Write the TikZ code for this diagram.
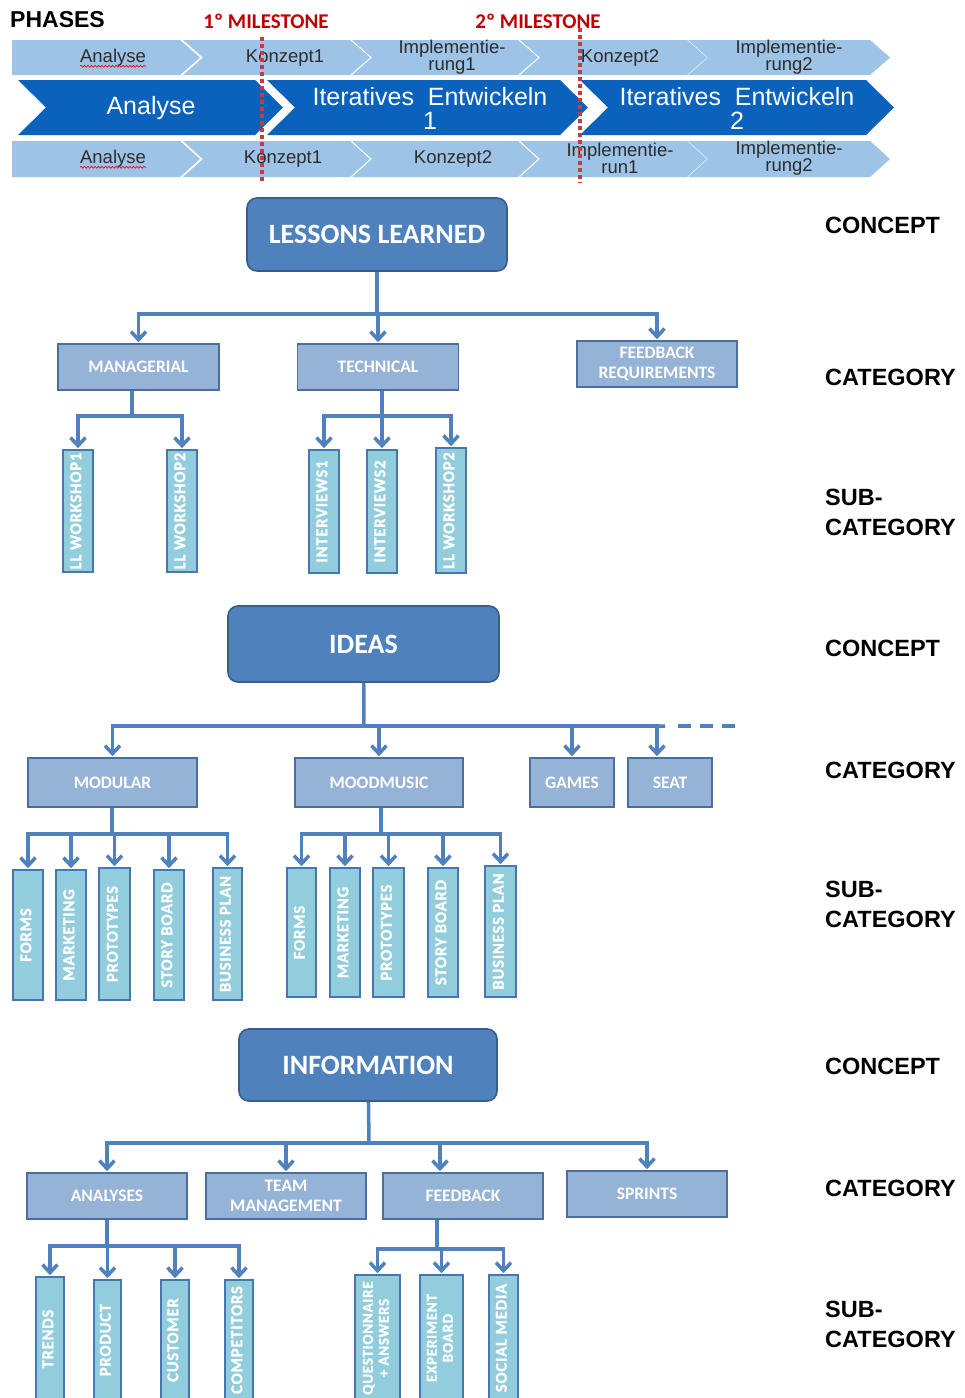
\documentclass[tikz,border=0pt]{standalone}
\usepackage{fontspec}
\setmainfont{Liberation Sans}
\newfontfamily\carlito{Carlito}
\usetikzlibrary{arrows.meta,decorations.pathmorphing}

\definecolor{phaselight}{RGB}{157,195,230}
\definecolor{phasedark}{RGB}{10,98,188}
\definecolor{phasetext}{RGB}{45,45,45}
\definecolor{milered}{RGB}{192,0,0}
\definecolor{miledot}{RGB}{196,60,60}
\definecolor{conceptfill}{RGB}{79,129,189}
\definecolor{conceptline}{RGB}{56,93,138}
\definecolor{catfill}{RGB}{149,179,215}
\definecolor{catline}{RGB}{75,110,160}
\definecolor{subfill}{RGB}{146,205,221}
\definecolor{subline}{RGB}{70,120,175}
\definecolor{linkblue}{RGB}{79,129,189}

% vertical label inside the narrow boxes
\newcommand{\vt}[1]{\rotatebox{90}{\begin{tabular}{@{}c@{}}#1\end{tabular}}}

\tikzset{
  concept/.style={draw=conceptline, fill=conceptfill, line width=1.6pt, rounded corners=10pt,
    text=white, font=\carlito\bfseries\fontsize{28}{30}\selectfont},
  catbox/.style={draw=catline, fill=catfill, line width=1.6pt, text=white, align=center,
    inner sep=0pt, minimum height=46pt, font=\carlito\bfseries\fontsize{17.5}{20.5}\selectfont},
  subbox/.style={draw=subline, fill=subfill, line width=1.6pt, text=white, inner sep=0pt,
    font=\carlito\bfseries\fontsize{16.5}{16}\selectfont\addfontfeatures{LetterSpace=5,FakeBold=1.2}},
  link/.style={draw=linkblue, line width=3.5pt},
  arr/.style={link, -{Straight Barb[length=8pt,width=15pt]}, shorten >=1pt},
  level/.style={anchor=west, align=left, inner sep=0pt, font=\bfseries\fontsize{23.5}{30}\selectfont},
  ptext/.style={inner sep=0pt, align=center, text=phasetext, font=\fontsize{18.5}{17}\selectfont},
  dtext/.style={inner sep=0pt, align=center, text=white, font=\fontsize{25}{24}\selectfont},
  squiggle/.style={red, line width=0.6pt, decorate, decoration={snake,amplitude=0.9pt,segment length=3.5pt}},
}

\begin{document}
\begin{tikzpicture}[x=1pt, y=-1pt]
    \useasboundingbox (0,0) rectangle (965,1398);
    \fill[white] (0,0) rectangle (965,1398);

    % phases: light rows
    \foreach \ya/\yb in {40/75, 141/177} {
        \fill[phaselight] (12,\ya) -- (180,\ya) -- (200,{(\ya+\yb)/2}) -- (180,\yb) -- (12,\yb) -- cycle;
        \foreach \xa/\xb in {183/350, 352/518, 520/687, 688/870}
            \fill[phaselight] (\xa,\ya) -- (\xb,\ya) -- (\xb+20,{(\ya+\yb)/2}) -- (\xb,\yb) -- (\xa,\yb) -- (\xa+20,{(\ya+\yb)/2}) -- cycle;
    }
    % phases: dark row
    \foreach \xa/\xb in {18/255, 267/560, 580/866}
        \fill[phasedark] (\xa,80) -- (\xb,80) -- (\xb+28,107.5) -- (\xb,135) -- (\xa,135) -- (\xa+28,107.5) -- cycle;

    \node[level, font=\bfseries\fontsize{23}{25}\selectfont] (phases) at (10,20) {PHASES};
    \node[text=milered, font=\carlito\bfseries\fontsize{21}{23}\selectfont] (ms1) at (266,21) {1º MILESTONE};
    \node[text=milered, font=\carlito\bfseries\fontsize{21}{23}\selectfont] (ms2) at (538,21) {2º MILESTONE};

    \node[ptext] (p1a) at (113,58) {Analyse};
    \node[ptext] (p1b) at (285,58) {Konzept1};
    \node[ptext] (p1c) at (452,57) {Implementie-\\rung1};
    \node[ptext] (p1d) at (620,58) {Konzept2};
    \node[ptext] (p1e) at (789,57) {Implementie-\\rung2};

    \node[dtext, font=\fontsize{25}{25}\selectfont] (p2a) at (151,108) {Analyse};
    \node[dtext] (p2b) at (430,108) {Iteratives\ \ Entwickeln\\1};
    \node[dtext] (p2c) at (737,108) {Iteratives\ \ Entwickeln\\2};

    \node[ptext] (p3a) at (113,159) {Analyse};
    \node[ptext] (p3b) at (283,159) {Konzept1};
    \node[ptext] (p3c) at (453,159) {Konzept2};
    \node[ptext] (p3d) at (620,158) {Implementie-\\run1};
    \node[ptext] (p3e) at (789,158) {Implementie-\\rung2};

    \draw[squiggle] ([yshift=-3.5pt]p1a.base west) -- ([yshift=-3.5pt]p1a.base east);
    \draw[squiggle] ([yshift=-3.5pt]p3a.base west) -- ([yshift=-3.5pt]p3a.base east);

    % milestones
    \draw[miledot, line width=3.5pt, dash pattern=on 4pt off 3pt] (262,37) -- (262,183);
    \draw[miledot, line width=3.5pt, dash pattern=on 4pt off 3pt] (580,28) -- (580,183);

    % lessons learned
    \node[concept, minimum width=260pt, minimum height=73pt] (ll) at (377,234.5) {LESSONS LEARNED};
    \node[catbox, minimum width=161pt] (man) at (138.5,367) {MANAGERIAL};
    \node[catbox, minimum width=161pt] (tech) at (378,367) {TECHNICAL};
    \node[catbox, minimum width=160pt] (fbr) at (657,364) {FEEDBACK\\REQUIREMENTS};
    \node[subbox, minimum width=30pt, minimum height=122pt] (llw1) at (78,511) {\vt{LL WORKSHOP1}};
    \node[subbox, minimum width=30pt, minimum height=122pt] (llw2) at (182,511) {\vt{LL WORKSHOP2}};
    \node[subbox, minimum width=30pt, minimum height=123pt] (int1) at (324,511.5) {\vt{INTERVIEWS1}};
    \node[subbox, minimum width=30pt, minimum height=123pt] (int2) at (382,511.5) {\vt{INTERVIEWS2}};
    \node[subbox, minimum width=30pt, minimum height=125pt] (llw3) at (451,510.5) {\vt{LL WORKSHOP2}};

    \coordinate (llbus) at (377,314);
    \coordinate (manbus) at (132,416);
    \coordinate (techbus) at (382,416);
    \draw[link] (ll) -- (llbus);
    \foreach \c in {man,tech,fbr} \draw[arr] (llbus) -| (\c);
    \draw[link] (man.south -| manbus) -- (manbus);
    \foreach \c in {llw1,llw2} \draw[arr] (manbus) -| (\c);
    \draw[link] (tech.south -| techbus) -- (techbus);
    \foreach \c in {int1,int2,llw3} \draw[arr] (techbus) -| (\c);

    % ideas
    \node[concept, minimum width=271pt, minimum height=76pt] (ideas) at (363.5,644) {IDEAS};
    \node[catbox, minimum width=169pt, minimum height=49pt] (modular) at (112.5,782.5) {MODULAR};
    \node[catbox, minimum width=168pt, minimum height=49pt] (mood) at (379,782.5) {MOODMUSIC};
    \node[catbox, minimum width=84pt, minimum height=49pt] (games) at (572,782.5) {GAMES};
    \node[catbox, minimum width=84pt, minimum height=49pt] (seat) at (670,782.5) {SEAT};
    \node[subbox, minimum width=30pt, minimum height=130pt] (forms1) at (28,935) {\vt{FORMS}};
    \node[subbox, minimum width=30pt, minimum height=130pt] (mark1) at (71,935) {\vt{MARKETING}};
    \node[subbox, minimum width=31pt, minimum height=132pt] (proto1) at (114.5,934) {\vt{PROTOTYPES}};
    \node[subbox, minimum width=30pt, minimum height=130pt] (story1) at (169,935) {\vt{STORY BOARD}};
    \node[subbox, minimum width=29pt, minimum height=132pt] (bplan1) at (227.5,934) {\vt{BUSINESS PLAN}};
    \node[subbox, minimum width=29pt, minimum height=129pt] (forms2) at (301.5,932.5) {\vt{FORMS}};
    \node[subbox, minimum width=30pt, minimum height=129pt] (mark2) at (345,932.5) {\vt{MARKETING}};
    \node[subbox, minimum width=31pt, minimum height=129pt] (proto2) at (388.5,932.5) {\vt{PROTOTYPES}};
    \node[subbox, minimum width=30pt, minimum height=129pt] (story2) at (443,932.5) {\vt{STORY BOARD}};
    \node[subbox, minimum width=31pt, minimum height=131pt] (bplan2) at (500.5,931.5) {\vt{BUSINESS PLAN}};

    \coordinate (idbus) at (364,726);
    \coordinate (idend) at (665,726);
    \coordinate (modbus) at (112,834);
    \coordinate (moodbus) at (381,834);
    \draw[link] (ideas) -- (idbus) -- (idend);
    \draw[link, dash pattern=on 13pt off 9pt] ([xshift=13pt]idend) -- ++(58,0);
    \foreach \c in {modular,mood,games} \draw[arr] (idbus) -| (\c);
    \draw[arr] (idbus) -| ([xshift=-13pt]seat.north);
    \draw[link] (modular.south -| modbus) -- (modbus);
    \foreach \c in {forms1,mark1,proto1,story1,bplan1} \draw[arr] (modbus) -| (\c);
    \draw[link] (mood.south -| moodbus) -- (moodbus);
    \foreach \c in {forms2,mark2,proto2,story2,bplan2} \draw[arr] (moodbus) -| (\c);

    % information
    \node[concept, minimum width=258pt, minimum height=72pt] (info) at (368,1065) {INFORMATION};
    \node[catbox, minimum width=160pt] (analyses) at (107,1196) {ANALYSES};
    \node[catbox, minimum width=160pt] (team) at (286,1196) {TEAM\\MANAGEMENT};
    \node[catbox, minimum width=160pt] (feedback) at (463,1196) {FEEDBACK};
    \node[catbox, minimum width=160pt] (sprints) at (647,1194) {SPRINTS};
    \node[subbox, minimum width=28pt, minimum height=124pt] (trends) at (50,1339) {\vt{TRENDS}};
    \node[subbox, minimum width=27pt, minimum height=120pt] (product) at (107.5,1340) {\vt{PRODUCT}};
    \node[subbox, minimum width=28pt, minimum height=120pt] (customer) at (175,1340) {\vt{CUSTOMER}};
    \node[subbox, minimum width=28pt, minimum height=120pt] (compet) at (239,1340) {\vt{COMPETITORS}};
    \node[subbox, minimum width=45pt, minimum height=126pt, font=\carlito\bfseries\fontsize{15}{16}\selectfont\addfontfeatures{LetterSpace=5,FakeBold=1.2}] (quest) at (377.5,1338) {\vt{QUESTIONNAIRE\\+ ANSWERS}};
    \node[subbox, minimum width=43pt, minimum height=126pt, font=\carlito\bfseries\fontsize{15}{16}\selectfont\addfontfeatures{LetterSpace=5,FakeBold=1.2}] (exper) at (441.5,1338) {\vt{EXPERIMENT\\BOARD}};
    \node[subbox, minimum width=29pt, minimum height=126pt] (social) at (503.5,1338) {\vt{SOCIAL MEDIA}};

    \coordinate (infobus) at (369,1143);
    \coordinate (anbus) at (107,1246);
    \coordinate (fbbus) at (437,1249);
    \draw[link] (info) -- (infobus);
    \foreach \c in {analyses,team,sprints} \draw[arr] (infobus) -| (\c);
    \draw[arr] (infobus) -| ([xshift=-23pt]feedback.north);
    \draw[link] (analyses.south -| anbus) -- (anbus);
    \foreach \c in {trends,product,customer,compet} \draw[arr] (anbus) -| (\c);
    \draw[link] ([xshift=-26pt]feedback.south) -- (fbbus);
    \foreach \c in {quest,exper,social} \draw[arr] (fbbus) -| (\c);

    % levels on the right
    \node[level] (lv1) at (825,225) {CONCEPT};
    \node[level] (lv2) at (825,377) {CATEGORY};
    \node[level] (lv3) at (825,512) {SUB-\\CATEGORY};
    \node[level] (lv4) at (825,648) {CONCEPT};
    \node[level] (lv5) at (825,770) {CATEGORY};
    \node[level] (lv6) at (825,904.5) {SUB-\\CATEGORY};
    \node[level] (lv7) at (825,1066) {CONCEPT};
    \node[level] (lv8) at (825,1188) {CATEGORY};
    \node[level] (lv9) at (825,1324) {SUB-\\CATEGORY};
\end{tikzpicture}
\end{document}
